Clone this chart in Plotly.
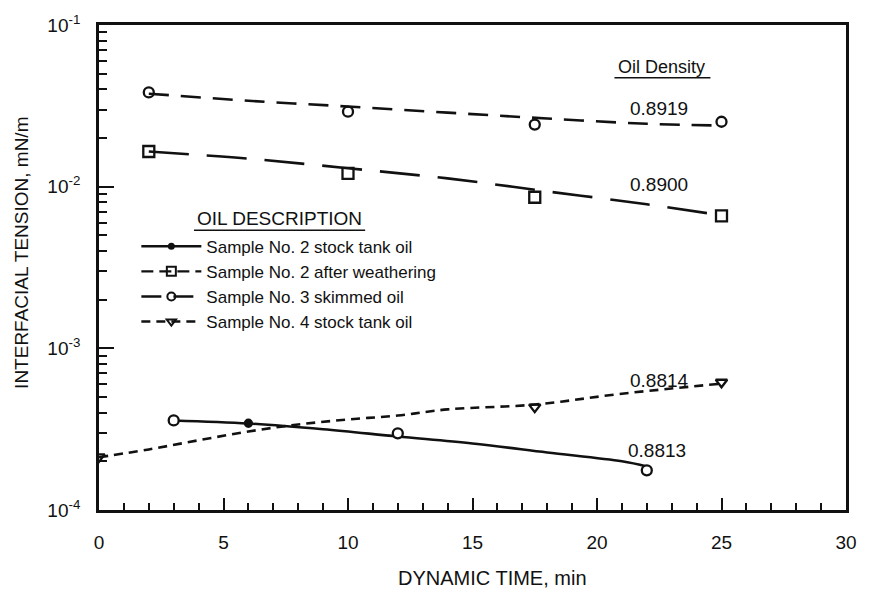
import plotly.graph_objects as go

# ---------------- data ----------------
series_names = [
    "Sample No. 2 stock tank oil",
    "Sample No. 2 after weathering",
    "Sample No. 3 skimmed oil",
    "Sample No. 4 stock tank oil",
]
densities = ["0.8813", "0.8900", "0.8919", "0.8814"]

# measured points
s1_x = [3, 6, 12, 22]
s1_y = [3.58e-4, 3.44e-4, 2.98e-4, 1.76e-4]
s2_x = [2, 10, 17.5, 25]
s2_y = [0.0165, 0.0121, 0.0086, 0.0066]
s3_x = [2, 10, 17.5, 25]
s3_y = [0.0383, 0.0291, 0.0242, 0.0252]
s4_x = [0, 17.5, 25]
s4_y = [2.13e-4, 4.33e-4, 6.17e-4]

# drawn (smoothed) curves
c1_x = [3, 6, 9, 12, 15, 18, 21, 22]
c1_y = [3.58e-4, 3.43e-4, 3.16e-4, 2.85e-4, 2.58e-4, 2.27e-4, 2.00e-4, 1.86e-4]
c2_x = [2, 6, 10, 14, 18, 22, 25]
c2_y = [0.0165, 0.0149, 0.0130, 0.01125, 0.00935, 0.00778, 0.00665]
c3_x = [2, 6, 10, 14, 18, 22, 25]
c3_y = [0.0376, 0.0340, 0.0313, 0.0287, 0.0264, 0.0245, 0.0239]
c4_x = [0, 2, 4, 6, 8, 10, 12, 14, 17.5, 21, 25]
c4_y = [2.12e-4, 2.37e-4, 2.70e-4, 3.06e-4, 3.38e-4, 3.63e-4, 3.84e-4, 4.19e-4,
        4.49e-4, 5.24e-4, 6.05e-4]

x_ticks = [0, 5, 10, 15, 20, 25, 30]
y_ticks = [1e-4, 1e-3, 1e-2, 1e-1]
y_tick_text = ["10<sup>-4</sup>", "10<sup>-3</sup>", "10<sup>-2</sup>", "10<sup>-1</sup>"]
y_decades = [1e-4, 1e-3, 1e-2]
y_minor = [m * d for d in y_decades for m in range(2, 10)]

# ---------------- styling ----------------
FONT = "Liberation Sans, Arial, sans-serif"
INK = "#111111"
dashes = ["solid", "40px,18px", "20px,12px", "9px,6px"]
symbols = ["circle", "square-open", "circle-open", "triangle-down-open"]
msizes = [7, 11, 10, 10]

fig = go.Figure()

curves = [(c1_x, c1_y), (c2_x, c2_y), (c3_x, c3_y), (c4_x, c4_y)]
points = [(s1_x, s1_y), (s2_x, s2_y), (s3_x, s3_y), (s4_x, s4_y)]
s1_fill = ["white", INK, "white", "white"]
s1_sizes = [10, 7, 10, 10]

for i in range(4):
    cx, cy = curves[i]
    fig.add_trace(go.Scatter(
        x=cx, y=cy, mode="lines", showlegend=False, hoverinfo="skip",
        line=dict(color=INK, width=2.6, dash=dashes[i], shape="spline"),
    ))
    px, py = points[i]
    if i == 0:
        mk = dict(symbol="circle", size=s1_sizes, color=s1_fill, opacity=1,
                  line=dict(color=INK, width=2.3))
    else:
        mk = dict(symbol=symbols[i], size=msizes[i], color=INK, opacity=1,
                  line=dict(color=INK, width=2.3))
    fig.add_trace(go.Scatter(x=px, y=py, mode="markers", showlegend=False,
                             marker=mk))
    # legend entry
    fig.add_trace(go.Scatter(
        x=[None], y=[None], mode="lines+markers", name=series_names[i],
        line=dict(color=INK, width=2.4, dash=dashes[i] if i != 1 else "12px,6px"),
        marker=dict(symbol=symbols[i], size=msizes[i] - 2, color=INK,
                    line=dict(color=INK, width=2)),
    ))

fig.update_layout(
    width=869, height=591,
    margin=dict(l=99, r=15, t=23, b=81),
    paper_bgcolor="white", plot_bgcolor="white",
    font=dict(family=FONT, color=INK, size=15),
    legend=dict(
        x=0.05, y=0.58, xanchor="left", yanchor="top",
        bgcolor="rgba(0,0,0,0)", font=dict(size=17, family=FONT, color=INK),
        itemwidth=60, tracegroupgap=0,
    ),
)

fig.update_xaxes(
    range=[0, 30], tickvals=x_ticks, ticktext=[str(v) for v in x_ticks],
    showline=True, linecolor=INK, linewidth=2.8, mirror=True,
    ticks="inside", ticklen=12, tickwidth=2, tickcolor=INK,
    minor=dict(ticks="inside", ticklen=7, tickwidth=2, dtick=1, tickcolor=INK),
    showgrid=False, zeroline=False,
    tickfont=dict(size=19, family=FONT, color=INK), ticklabelstandoff=13,
)
fig.update_yaxes(
    type="log", range=[-4, -1], tickvals=y_ticks, ticktext=y_tick_text,
    showline=True, linecolor=INK, linewidth=2.8, mirror=True,
    ticks="inside", ticklen=15, tickwidth=2.2, tickcolor=INK,
    minor=dict(ticks="inside", ticklen=8, tickwidth=2, tickvals=y_minor,
               tickcolor=INK),
    showgrid=False, zeroline=False,
    tickfont=dict(size=19, family=FONT, color=INK), ticklabelstandoff=12,
)

def paper_x(px):
    return (px - 99) / 755.0

def paper_y(py):
    return (510 - py) / 487.0

ann = []
ann.append(dict(text="DYNAMIC TIME, min", x=paper_x(497), y=paper_y(578),
                font=dict(size=20)))
ann.append(dict(text="INTERFACIAL TENSION, mN/m", x=paper_x(20), y=paper_y(252),
                textangle=-90, font=dict(size=19)))
ann.append(dict(text="Oil Density", x=paper_x(668), y=paper_y(65),
                font=dict(size=18)))
ann.append(dict(text="OIL DESCRIPTION", x=paper_x(281), y=paper_y(217),
                font=dict(size=19)))
dens_pos = [(663, 450), (665, 183), (665, 107), (666, 380)]
for d, (px, py) in zip(densities, dens_pos):
    ann.append(dict(text=d, x=paper_x(px), y=paper_y(py), font=dict(size=19)))

for a in ann:
    a.update(xref="paper", yref="paper", showarrow=False,
             xanchor="center", yanchor="middle")
fig.update_layout(annotations=ann)

# underlines
fig.add_shape(type="line", xref="paper", yref="paper",
              x0=paper_x(620), x1=paper_x(717), y0=paper_y(76), y1=paper_y(76),
              line=dict(color=INK, width=1.5))
fig.add_shape(type="line", xref="paper", yref="paper",
              x0=paper_x(195), x1=paper_x(368), y0=paper_y(229), y1=paper_y(229),
              line=dict(color=INK, width=1.5))

fig.write_html("out.html")
